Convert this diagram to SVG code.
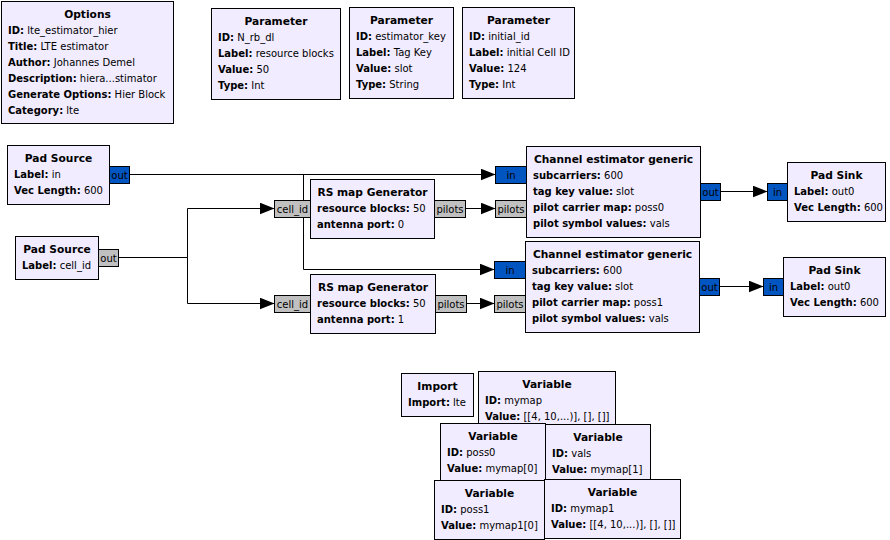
<svg xmlns="http://www.w3.org/2000/svg" width="890" height="540" viewBox="0 0 890 540">
<defs>
<style>
text{font-family:"DejaVu Sans","Liberation Sans",sans-serif;font-size:10px;fill:#000}
.b{fill:#F1ECFF;stroke:#000;stroke-width:1}
.t{font-weight:bold;text-anchor:middle;font-size:10.67px}
.k{font-weight:bold}
.pb{fill:#0055C0;stroke:#000;stroke-width:1}
.pg{fill:#C0C0C0;stroke:#000;stroke-width:1}
.pt{text-anchor:middle}
.w{fill:none;stroke:#000;stroke-width:1;marker-end:url(#ah)}
</style>
<marker id="ah" markerUnits="userSpaceOnUse" markerWidth="15" markerHeight="12" refX="15" refY="6" orient="auto">
<path d="M0,0 L15,6 L0,12 z" fill="#000"/>
</marker>
</defs>
<rect width="890" height="540" fill="#fff"/>

<g id="options">
<rect class="b" x="1.5" y="1.5" width="172" height="122"/>
<text class="t" x="87.5" y="18">Options</text>
<text x="8" y="34"><tspan class="k">ID:</tspan> lte_estimator_hier</text>
<text x="8" y="50"><tspan class="k">Title:</tspan> LTE estimator</text>
<text x="8" y="66"><tspan class="k">Author:</tspan> Johannes Demel</text>
<text x="8" y="82"><tspan class="k">Description:</tspan> hiera...stimator</text>
<text x="8" y="98"><tspan class="k">Generate Options:</tspan> Hier Block</text>
<text x="8" y="114"><tspan class="k">Category:</tspan> lte</text>
</g>

<g id="param_N_rb_dl">
<rect class="b" x="211.5" y="8.5" width="129" height="91"/>
<text class="t" x="276" y="25">Parameter</text>
<text x="218" y="41"><tspan class="k">ID:</tspan> N_rb_dl</text>
<text x="218" y="57"><tspan class="k">Label:</tspan> resource blocks</text>
<text x="218" y="73"><tspan class="k">Value:</tspan> 50</text>
<text x="218" y="89"><tspan class="k">Type:</tspan> Int</text>
</g>

<g id="param_estimator_key">
<rect class="b" x="349.5" y="7.5" width="104" height="91"/>
<text class="t" x="401.5" y="24">Parameter</text>
<text x="356" y="40"><tspan class="k">ID:</tspan> estimator_key</text>
<text x="356" y="56"><tspan class="k">Label:</tspan> Tag Key</text>
<text x="356" y="72"><tspan class="k">Value:</tspan> slot</text>
<text x="356" y="88"><tspan class="k">Type:</tspan> String</text>
</g>

<g id="param_initial_id">
<rect class="b" x="462.5" y="7.5" width="112" height="91"/>
<text class="t" x="518.5" y="24">Parameter</text>
<text x="469" y="40"><tspan class="k">ID:</tspan> initial_id</text>
<text x="469" y="56"><tspan class="k">Label:</tspan> initial Cell ID</text>
<text x="469" y="72"><tspan class="k">Value:</tspan> 124</text>
<text x="469" y="88"><tspan class="k">Type:</tspan> Int</text>
</g>

<g id="connectors">
<path class="w" d="M129.5,174.5 H495.5"/>
<path class="w" d="M129.5,174.5 H303.5 V269.5 H494.5"/>
<path class="w" d="M118.5,257.5 H187.5 V208.5 H274.5"/>
<path class="w" d="M118.5,257.5 H187.5 V303.5 H274.5"/>
<path class="w" d="M465.5,208.5 H495.5"/>
<path class="w" d="M466.5,303.5 H494.5"/>
<path class="w" d="M720.5,191.5 H767.5"/>
<path class="w" d="M719.5,286.5 H763.5"/>
</g>

<g id="pad_source_in">
<rect class="b" x="7.5" y="145.5" width="102" height="59"/>
<text class="t" x="58.5" y="162">Pad Source</text>
<text x="14" y="178"><tspan class="k">Label:</tspan> in</text>
<text x="14" y="194"><tspan class="k">Vec Length:</tspan> 600</text>
<rect class="pb" x="109.5" y="166.5" width="20" height="17"/>
<text class="pt" x="119.5" y="179">out</text>
</g>

<g id="pad_source_cell_id">
<rect class="b" x="15.5" y="236.5" width="83" height="43"/>
<text class="t" x="57" y="253">Pad Source</text>
<text x="22" y="269"><tspan class="k">Label:</tspan> cell_id</text>
<rect class="pg" x="98.5" y="249.5" width="20" height="17"/>
<text class="pt" x="108.5" y="262">out</text>
</g>

<g id="rs_map_0">
<rect class="b" x="310.5" y="179.5" width="124" height="59"/>
<text class="t" x="372.5" y="196">RS map Generator</text>
<text x="317" y="212"><tspan class="k">resource blocks:</tspan> 50</text>
<text x="317" y="228"><tspan class="k">antenna port:</tspan> 0</text>
<rect class="pg" x="274.5" y="200.5" width="36" height="17"/>
<text class="pt" x="292.5" y="213">cell_id</text>
<rect class="pg" x="434.5" y="200.5" width="31" height="17"/>
<text class="pt" x="450" y="213">pilots</text>
</g>

<g id="rs_map_1">
<rect class="b" x="310.5" y="274.5" width="125" height="59"/>
<text class="t" x="373" y="291">RS map Generator</text>
<text x="317" y="307"><tspan class="k">resource blocks:</tspan> 50</text>
<text x="317" y="323"><tspan class="k">antenna port:</tspan> 1</text>
<rect class="pg" x="274.5" y="295.5" width="36" height="17"/>
<text class="pt" x="292.5" y="308">cell_id</text>
<rect class="pg" x="435.5" y="295.5" width="31" height="17"/>
<text class="pt" x="451" y="308">pilots</text>
</g>

<g id="chan_est_0">
<rect class="b" x="526.5" y="146.5" width="174" height="91"/>
<text class="t" x="613.5" y="163">Channel estimator generic</text>
<text x="533" y="179"><tspan class="k">subcarriers:</tspan> 600</text>
<text x="533" y="195"><tspan class="k">tag key value:</tspan> slot</text>
<text x="533" y="211"><tspan class="k">pilot carrier map:</tspan> poss0</text>
<text x="533" y="227"><tspan class="k">pilot symbol values:</tspan> vals</text>
<rect class="pb" x="495.5" y="166.5" width="31" height="17"/>
<text class="pt" x="511" y="179">in</text>
<rect class="pg" x="495.5" y="200.5" width="31" height="17"/>
<text class="pt" x="511" y="213">pilots</text>
<rect class="pb" x="700.5" y="183.5" width="20" height="17"/>
<text class="pt" x="710.5" y="196">out</text>
</g>

<g id="chan_est_1">
<rect class="b" x="525.5" y="241.5" width="174" height="91"/>
<text class="t" x="612.5" y="258">Channel estimator generic</text>
<text x="532" y="274"><tspan class="k">subcarriers:</tspan> 600</text>
<text x="532" y="290"><tspan class="k">tag key value:</tspan> slot</text>
<text x="532" y="306"><tspan class="k">pilot carrier map:</tspan> poss1</text>
<text x="532" y="322"><tspan class="k">pilot symbol values:</tspan> vals</text>
<rect class="pb" x="494.5" y="261.5" width="31" height="17"/>
<text class="pt" x="510" y="274">in</text>
<rect class="pg" x="494.5" y="295.5" width="31" height="17"/>
<text class="pt" x="510" y="308">pilots</text>
<rect class="pb" x="699.5" y="278.5" width="20" height="17"/>
<text class="pt" x="709.5" y="291">out</text>
</g>

<g id="pad_sink_0">
<rect class="b" x="787.5" y="162.5" width="98" height="59"/>
<text class="t" x="836.5" y="179">Pad Sink</text>
<text x="794" y="195"><tspan class="k">Label:</tspan> out0</text>
<text x="794" y="211"><tspan class="k">Vec Length:</tspan> 600</text>
<rect class="pb" x="767.5" y="183.5" width="20" height="17"/>
<text class="pt" x="777.5" y="196">in</text>
</g>

<g id="pad_sink_1">
<rect class="b" x="783.5" y="257.5" width="102" height="59"/>
<text class="t" x="834.5" y="274">Pad Sink</text>
<text x="790" y="290"><tspan class="k">Label:</tspan> out0</text>
<text x="790" y="306"><tspan class="k">Vec Length:</tspan> 600</text>
<rect class="pb" x="763.5" y="278.5" width="20" height="17"/>
<text class="pt" x="773.5" y="291">in</text>
</g>

<g id="import_lte">
<rect class="b" x="401.5" y="373.5" width="72" height="43"/>
<text class="t" x="437.5" y="390">Import</text>
<text x="408" y="406"><tspan class="k">Import:</tspan> lte</text>
</g>

<g id="var_mymap">
<rect class="b" x="478.5" y="371.5" width="137" height="59"/>
<text class="t" x="547" y="388">Variable</text>
<text x="485" y="404"><tspan class="k">ID:</tspan> mymap</text>
<text x="485" y="420"><tspan class="k">Value:</tspan> [[4, 10,...)], [], []]</text>
</g>

<g id="var_poss0">
<rect class="b" x="440.5" y="423.5" width="105" height="59"/>
<text class="t" x="493" y="440">Variable</text>
<text x="447" y="456"><tspan class="k">ID:</tspan> poss0</text>
<text x="447" y="472"><tspan class="k">Value:</tspan> mymap[0]</text>
</g>

<g id="var_vals">
<rect class="b" x="545.5" y="424.5" width="105" height="59"/>
<text class="t" x="598" y="441">Variable</text>
<text x="552" y="457"><tspan class="k">ID:</tspan> vals</text>
<text x="552" y="473"><tspan class="k">Value:</tspan> mymap[1]</text>
</g>

<g id="var_poss1">
<rect class="b" x="434.5" y="480.5" width="110" height="59"/>
<text class="t" x="489.5" y="497">Variable</text>
<text x="441" y="513"><tspan class="k">ID:</tspan> poss1</text>
<text x="441" y="529"><tspan class="k">Value:</tspan> mymap1[0]</text>
</g>

<g id="var_mymap1">
<rect class="b" x="544.5" y="479.5" width="136" height="59"/>
<text class="t" x="612.5" y="496">Variable</text>
<text x="551" y="512"><tspan class="k">ID:</tspan> mymap1</text>
<text x="551" y="528"><tspan class="k">Value:</tspan> [[4, 10,...)], [], []]</text>
</g>
</svg>
